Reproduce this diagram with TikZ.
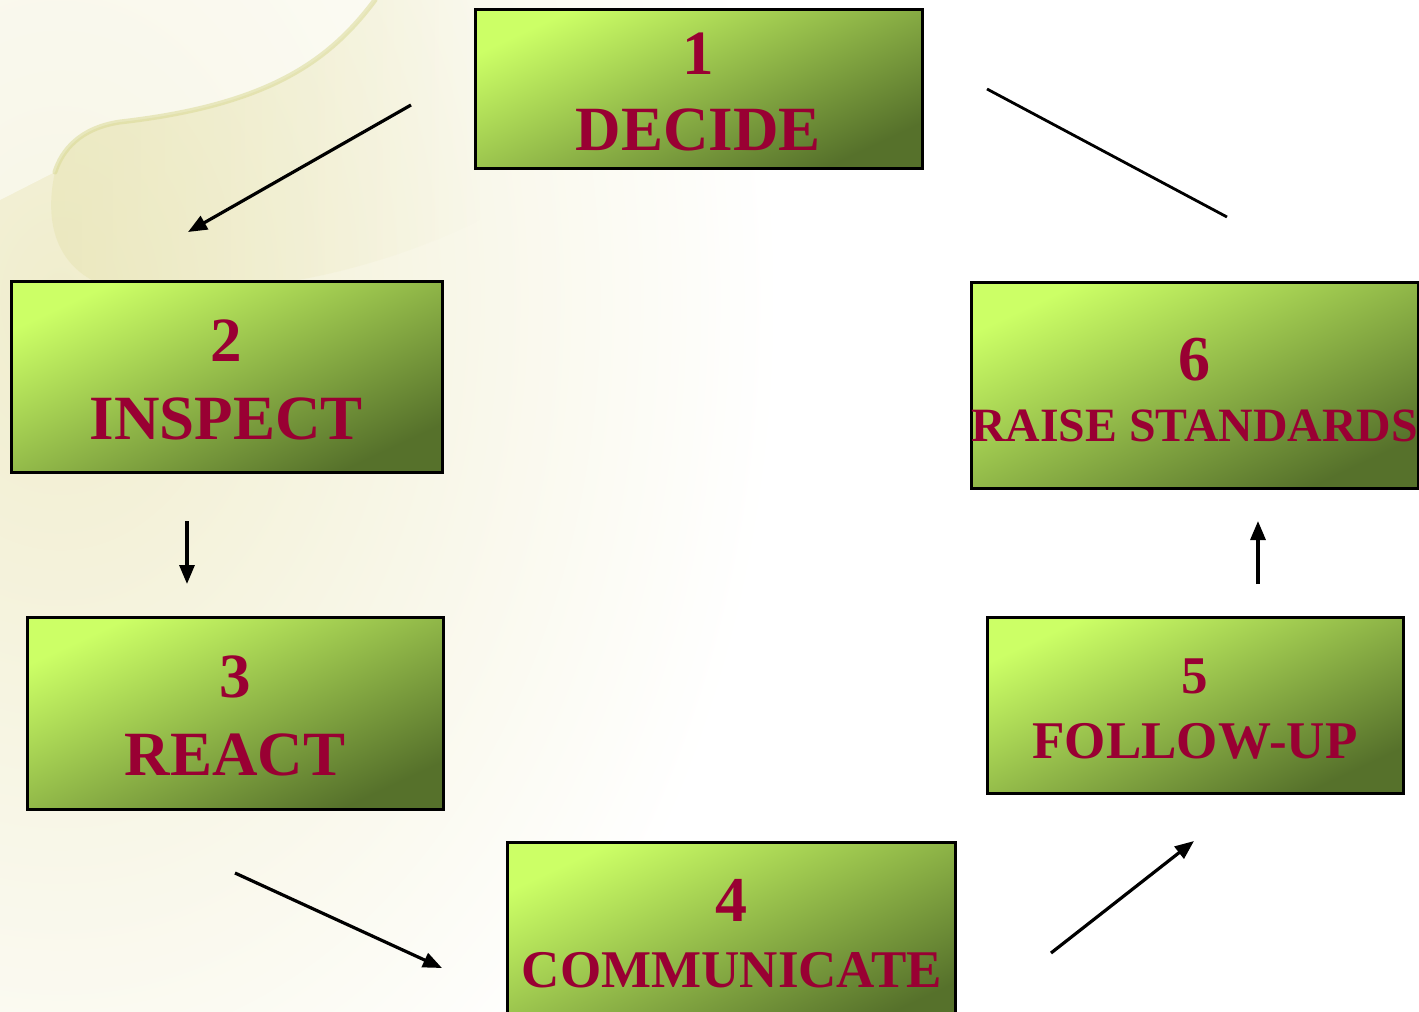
\documentclass[tikz,border=0pt]{standalone}
\usepackage{fontspec}
\setmainfont{Liberation Serif}
\usetikzlibrary{arrows.meta,fadings}
\definecolor{lime}{HTML}{CCFF66}
\definecolor{midlime}{HTML}{ABCE58}
\definecolor{olive}{HTML}{56712B}
\definecolor{crimson}{HTML}{990033}
\definecolor{cream}{HTML}{F0EDCD}
\definecolor{paleyel}{HTML}{D8D890}
\definecolor{yelzone}{HTML}{E6E3B0}
\tikzset{
  stepbox/.style={draw=black, line width=3pt, top color=lime, middle color=midlime,
    bottom color=olive, shading angle=25, inner sep=0pt},
  lbl/.style={text=crimson, font=\bfseries, anchor=base, inner sep=0pt},
  conn/.style={line width=3.2pt, -{Triangle[length=19pt,width=15pt]}},
  plainconn/.style={line width=2.8pt}
}
\newcommand{\fsz}[1]{\fontsize{#1}{#1}\selectfont}
\begin{document}
\begin{tikzpicture}[x=1pt,y=-1pt]
\useasboundingbox (0,0) rectangle (1419,1012);
\clip (0,0) rectangle (1419,1012);
\fill[white] (0,0) rectangle (1419,1012);
% background texture
\shade[inner color=cream, outer color=white] (60,300) ellipse (720 and 1000);
\fill[yelzone, opacity=0.5, path fading=east] (55,172) .. controls (62,150) and (80,128) .. (120,122)
  .. controls (270,105) and (330,60) .. (375,0) -- (480,0) -- (480,220)
  .. controls (380,270) and (250,300) .. (120,290) .. controls (70,280) and (40,240) .. (55,172) -- cycle;
\fill[white, opacity=0.5] (0,0) -- (375,0) .. controls (330,60) and (270,105) .. (120,122)
  .. controls (80,128) and (62,150) .. (55,172) -- (0,200) -- cycle;
\draw[paleyel, line width=5pt, opacity=0.5, line cap=round] (55,172) .. controls (62,150) and (80,128) .. (120,122)
  .. controls (270,105) and (330,60) .. (375,0);
% boxes
\node[stepbox, minimum width=447pt, minimum height=159pt] (b1) at (698.5,88.5) {};
\node[stepbox, minimum width=431pt, minimum height=191pt] (b2) at (226.5,377) {};
\node[stepbox, minimum width=416pt, minimum height=192pt] (b3) at (235,713) {};
\node[stepbox, minimum width=448pt, minimum height=190pt] (b4) at (731,937) {};
\node[stepbox, minimum width=416pt, minimum height=176pt] (b5) at (1195,705) {};
\node[stepbox, minimum width=447pt, minimum height=206pt] (b6) at (1194.5,385) {};
% labels
\node[lbl, font=\bfseries\fsz{63}] (n1) at (698.5,74) {1};
\node[lbl, font=\bfseries\fsz{63}] (w1) at (698.5,150) {DECIDE};
\node[lbl, font=\bfseries\fsz{63}] (n2) at (226.5,361) {2};
\node[lbl, font=\bfseries\fsz{63}] (w2) at (226.5,439) {INSPECT};
\node[lbl, font=\bfseries\fsz{63}] (n3) at (235,697) {3};
\node[lbl, font=\bfseries\fsz{63}] (w3) at (235,775) {REACT};
\node[lbl, font=\bfseries\fsz{64}] (n4) at (731,921) {4};
\node[lbl, font=\bfseries\fsz{53}] (w4) at (732,987) {COMMUNICATE};
\node[lbl, font=\bfseries\fsz{53}] (n5) at (1195,693) {5};
\node[lbl, font=\bfseries\fsz{53}] (w5) at (1195,758) {FOLLOW-UP};
\node[lbl, font=\bfseries\fsz{64}] (n6) at (1194.5,380) {6};
\node[lbl, font=\bfseries\fsz{47.8}] (w6) at (1194.5,441) {RAISE STANDARDS};
% connector ends
\coordinate (a1s) at (411,105); \coordinate (a1e) at (188,232);
\coordinate (a2s) at (187,521); \coordinate (a2e) at (187,584);
\coordinate (a3s) at (235,873); \coordinate (a3e) at (442,968);
\coordinate (a4s) at (1051,953); \coordinate (a4e) at (1194,841);
\coordinate (a5s) at (1258,584); \coordinate (a5e) at (1258,521);
\coordinate (a6s) at (1227,217); \coordinate (a6e) at (987,89);
\draw[conn] (a1s) -- (a1e);
\draw[conn] (a2s) -- (a2e);
\draw[conn] (a3s) -- (a3e);
\draw[conn] (a4s) -- (a4e);
\draw[conn] (a5s) -- (a5e);
\draw[plainconn] (a6s) -- (a6e);
\end{tikzpicture}
\end{document}
